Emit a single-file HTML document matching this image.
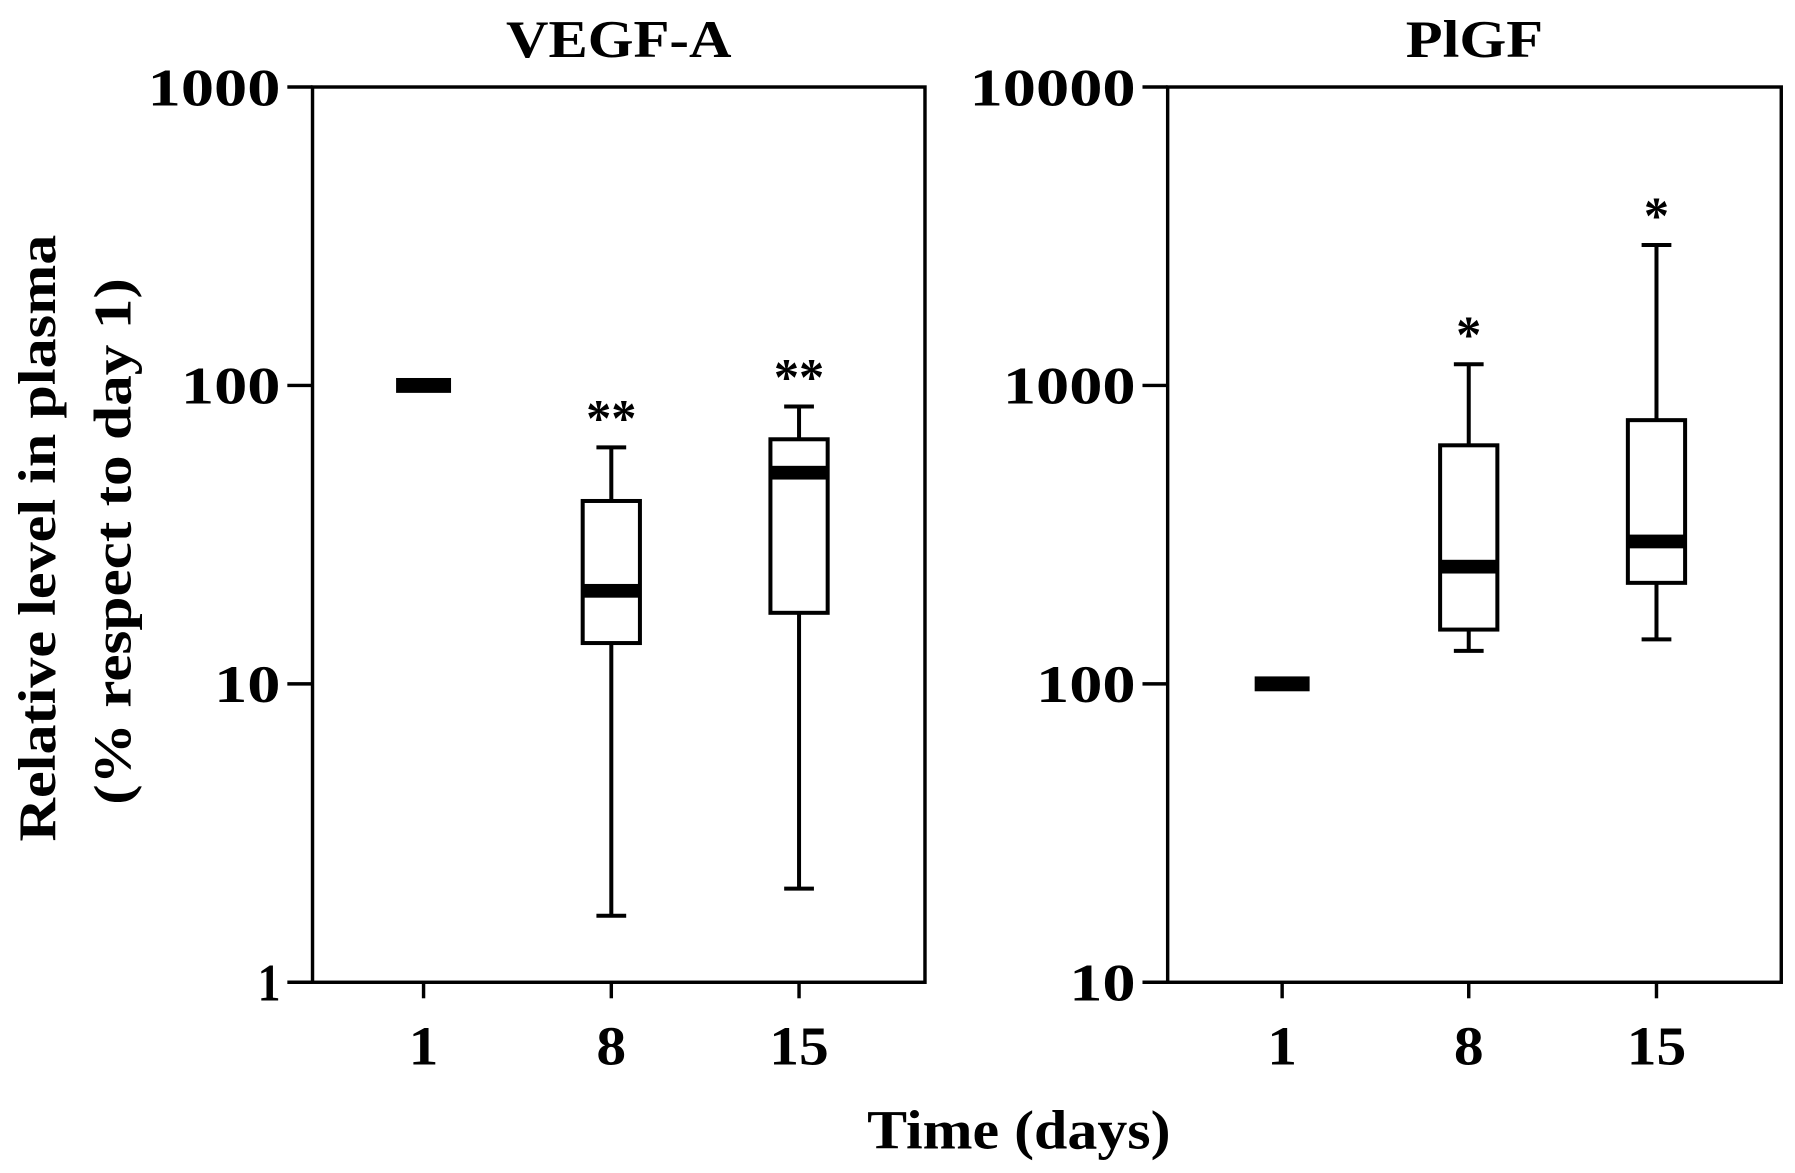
<!DOCTYPE html>
<html><head><meta charset="utf-8"><style>
html,body{margin:0;padding:0;background:#fff}
svg{display:block}
text{font-family:"Liberation Serif",serif;font-weight:bold;fill:#000}
</style></head><body>
<svg id="chart" width="1795" height="1173" viewBox="0 0 1568 1024.6" preserveAspectRatio="none" xmlns="http://www.w3.org/2000/svg">
<g id="root"></g>
</svg>
<script>
const categories = ["1", "8", "15"];
const vegfTicks = [1, 10, 100, 1000];
const vegfMin = [100, 1.67, 2.06];
const vegfQ1 = [100, 13.7, 17.3];
const vegfMedian = [100, 20.5, 51];
const vegfQ3 = [100, 41, 66];
const vegfMax = [100, 62, 85];
const vegfSig = ["", "**", "**"];
const plgfTicks = [10, 100, 1000, 10000];
const plgfMin = [100, 129, 141];
const plgfQ1 = [100, 152, 218];
const plgfMedian = [100, 247, 300];
const plgfQ3 = [100, 630, 765];
const plgfMax = [100, 1178, 2955];
const plgfSig = ["", "*", "*"];

const NS = "http://www.w3.org/2000/svg";
const root = document.getElementById('root');
function mk(tag, attrs, parent, txt) {
  const e = document.createElementNS(NS, tag);
  for (const k in attrs) e.setAttribute(k, attrs[k]);
  if (txt !== undefined) e.textContent = txt;
  (parent || root).appendChild(e);
  return e;
}
function digitW(s) { return s.length === 1 ? (s === '1' ? 20 : 26) : s.length * 29; }

function panel(opt) {
  const g = mk('g', {});
  
  
  const {x0, x1, y0, y1, lo, hi} = opt;
  const yS = v => y1 - (Math.log10(v) - Math.log10(lo)) / (Math.log10(hi) - Math.log10(lo)) * (y1 - y0);
  const xS = i => opt.cx[i];
  const frame = mk('rect', {x: x0, y: y0, width: x1 - x0, height: y1 - y0, fill: 'none', stroke: '#000', 'stroke-width': 3}, g);
  
  
  const t = mk('text', {x: (x0 + x1) / 2, y: 50, 'text-anchor': 'middle', 'font-size': 46, textLength: opt.titleW, lengthAdjust: 'spacingAndGlyphs'}, g, opt.title);
  
  
  opt.ticks.forEach(v => {
    const y = yS(v);
    mk('line', {x1: x0 - 22, x2: x0, y1: y, y2: y, stroke: '#000', 'stroke-width': 3}, g);
    const s = String(v);
    const l = mk('text', {x: x0 - 28, y: y + 16, 'text-anchor': 'end', 'font-size': 46, textLength: digitW(s), lengthAdjust: 'spacingAndGlyphs'}, g, s);
    
    
  });
  categories.forEach((c, i) => {
    const x = xS(i);
    mk('line', {x1: x, x2: x, y1: y1, y2: y1 + 14, stroke: '#000', 'stroke-width': 3}, g);
    const l = mk('text', {x: x, y: y1 + 72, 'text-anchor': 'middle', 'font-size': 48, textLength: c.length * 26, lengthAdjust: 'spacingAndGlyphs'}, g, c);
    
    
    const bg = mk('g', {}, g);
    
    
    if (i === 0) {
      const b = mk('rect', {x: x - 24, y: yS(opt.med[i]) - 6.5, width: 48, height: 13, fill: '#000'}, bg);
      
      
      return;
    }
    const hw = 25;
    mk('line', {x1: x, x2: x, y1: yS(opt.max[i]), y2: yS(opt.q3[i]), stroke: '#000', 'stroke-width': 3.5}, bg);
    mk('line', {x1: x, x2: x, y1: yS(opt.q1[i]), y2: yS(opt.min[i]), stroke: '#000', 'stroke-width': 3.5}, bg);
    mk('line', {x1: x - 13, x2: x + 13, y1: yS(opt.max[i]), y2: yS(opt.max[i]), stroke: '#000', 'stroke-width': 3.5}, bg);
    mk('line', {x1: x - 13, x2: x + 13, y1: yS(opt.min[i]), y2: yS(opt.min[i]), stroke: '#000', 'stroke-width': 3.5}, bg);
    mk('rect', {x: x - hw, y: yS(opt.q3[i]), width: 2 * hw, height: yS(opt.q1[i]) - yS(opt.q3[i]), fill: '#fff', stroke: '#000', 'stroke-width': 3.5}, bg);
    mk('rect', {x: x - hw, y: yS(opt.med[i]) - 6, width: 2 * hw, height: 12, fill: '#000'}, bg);
    const s = mk('text', {x: x, y: yS(opt.max[i]) - 10, 'text-anchor': 'middle', 'font-size': 46, 'font-weight': 'normal', 'font-family': 'Liberation Sans, sans-serif', textLength: opt.sig[i].length * 22, lengthAdjust: 'spacingAndGlyphs'}, bg, opt.sig[i]);
    
    
  });
}

panel({name: 'vegf-a', title: 'VEGF-A', titleW: 197, x0: 273, x1: 808, y0: 76, y1: 858, lo: 1, hi: 1000,
  cx: [370, 534, 698], ticks: vegfTicks, min: vegfMin, q1: vegfQ1, med: vegfMedian, q3: vegfQ3, max: vegfMax, sig: vegfSig});
panel({name: 'plgf', title: 'PlGF', titleW: 120, x0: 1020, x1: 1556, y0: 76, y1: 858, lo: 10, hi: 10000,
  cx: [1120, 1283, 1447], ticks: plgfTicks, min: plgfMin, q1: plgfQ1, med: plgfMedian, q3: plgfQ3, max: plgfMax, sig: plgfSig});

const xl = mk('text', {x: 890, y: 1003, 'text-anchor': 'middle', 'font-size': 48, textLength: 265, lengthAdjust: 'spacingAndGlyphs'}, root, 'Time (days)');


const yl1 = mk('text', {transform: 'translate(48,470) rotate(-90)', 'text-anchor': 'middle', 'font-size': 46, textLength: 530, lengthAdjust: 'spacingAndGlyphs'}, root, 'Relative level in plasma');


const yl2 = mk('text', {transform: 'translate(114,473) rotate(-90)', 'text-anchor': 'middle', 'font-size': 46, textLength: 460, lengthAdjust: 'spacingAndGlyphs'}, root, '(% respect to day 1)');


</script>
</body></html>
